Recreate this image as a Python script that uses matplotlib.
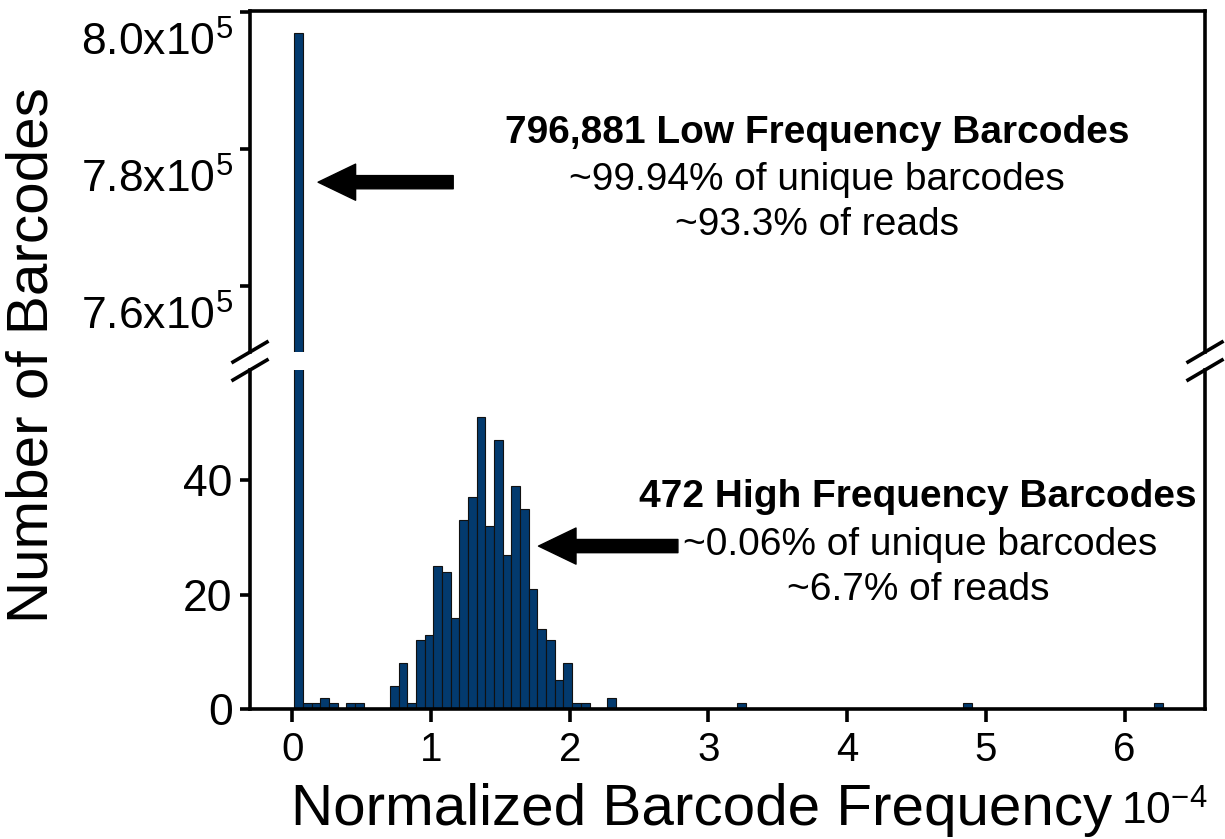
import numpy as np
import matplotlib.pyplot as plt
from matplotlib.lines import Line2D
from matplotlib.transforms import ScaledTranslation

plt.rcParams['font.family'] = ['Liberation Sans', 'DejaVu Sans']
plt.rcParams['mathtext.fontset'] = 'custom'
plt.rcParams['mathtext.rm'] = 'Liberation Sans'
plt.rcParams['mathtext.it'] = 'Liberation Sans:italic'
plt.rcParams['mathtext.bf'] = 'Liberation Sans:bold'

# histogram bins (x in units of 1e-4), only non-empty bins listed
bin_start = 0.0144
bin_width = 0.0626
bin_index = [0, 1, 2, 3, 4, 6, 7,
             11, 12, 13, 14, 15, 16, 17, 18, 19, 20, 21, 22, 23, 24, 25,
             26, 27, 28, 29, 30, 31, 32, 33, 36, 51, 77, 99]
bin_count = [796874, 1, 1, 2, 1, 1, 1,
             4, 8, 1, 12, 13, 25, 24, 16, 33, 37, 51, 32, 47, 27, 39,
             35, 21, 14, 12, 5, 8, 1, 1, 2, 1, 1, 1]

top_ticks = [7.6e5, 7.8e5, 8.0e5]
top_labels = [r'7.6x10$^{5}$', r'7.8x10$^{5}$', r'8.0x10$^{5}$']
bot_ticks = [0, 20, 40]
x_ticks = [0, 1, 2, 3, 4, 5, 6]

bar_color = '#033a6e'
W, H = 1225, 839

lefts = bin_start + np.array(bin_index) * bin_width
counts = np.array(bin_count)

fig = plt.figure(figsize=(W / 100, H / 100), dpi=100)
ax_top = fig.add_axes([250 / W, 1 - 352 / H, 955 / W, 341 / H])
ax_bot = fig.add_axes([250 / W, 1 - 709 / H, 955 / W, 339 / H])

for ax in (ax_top, ax_bot):
    ax.bar(lefts, counts, width=bin_width, align='edge', color=bar_color,
           edgecolor='#111111', linewidth=0.8)
    ax.set_xlim(-0.305, 6.58)
    for s in ax.spines.values():
        s.set_linewidth(2.6)
    ax.tick_params(direction='out', width=2.6, length=7.5)

ax_top.set_ylim(750300, 800100)
ax_top.set_yticks(top_ticks)
ax_top.set_yticklabels(top_labels)
ax_top.tick_params(axis='y', labelsize=32, pad=5)
ax_top.tick_params(axis='x', bottom=False, labelbottom=False)
ax_top.spines['bottom'].set_visible(False)
# labels sit below their ticks, as in the original
shift = ScaledTranslation(0, -7 / 72, fig.dpi_scale_trans)
for lbl in ax_top.get_yticklabels():
    lbl.set_verticalalignment('top')
    lbl.set_transform(lbl.get_transform() + shift)

ax_bot.set_ylim(0, 59.3)
ax_bot.set_yticks(bot_ticks)
ax_bot.set_xticks(x_ticks)
ax_bot.tick_params(axis='y', labelsize=32, pad=5)
ax_bot.tick_params(axis='x', labelsize=29, pad=7, length=9)
ax_bot.spines['top'].set_visible(False)

# break marks on both sides
for xc in (250, 1205):
    for yc in (352, 370):
        fig.add_artist(Line2D([(xc - 17) / W, (xc + 17) / W],
                              [1 - (yc + 10) / H, 1 - (yc - 10) / H],
                              color='black', linewidth=2.6))

# arrows
arrow = dict(arrowstyle='simple,head_length=2.7,head_width=2.6,tail_width=0.95',
             color='black', mutation_scale=10, shrinkA=0, shrinkB=0)
ax_top.annotate('', xy=(0.186, 775100), xytext=(1.16, 775100), arrowprops=arrow)
ax_bot.annotate('', xy=(1.775, 28.5), xytext=(2.78, 28.5), arrowprops=arrow)

# annotation text
fig.text(817 / W, 1 - 133 / H, '796,881 Low Frequency Barcodes', fontsize=28,
         fontweight='bold', ha='center', va='center')
fig.text(817 / W, 1 - 180 / H, '~99.94% of unique barcodes', fontsize=28,
         ha='center', va='center')
fig.text(817 / W, 1 - 225 / H, '~93.3% of reads', fontsize=28,
         ha='center', va='center')
fig.text(918 / W, 1 - 497 / H, '472 High Frequency Barcodes', fontsize=28,
         fontweight='bold', ha='center', va='center')
fig.text(920 / W, 1 - 545 / H, '~0.06% of unique barcodes', fontsize=28,
         ha='center', va='center')
fig.text(918 / W, 1 - 590 / H, '~6.7% of reads', fontsize=28,
         ha='center', va='center')

# axis labels
fig.text(33 / W, 1 - 355 / H, 'Number of Barcodes', fontsize=42, rotation=90,
         ha='center', va='center')
fig.text(702 / W, 1 - 825 / H, 'Normalized Barcode Frequency', fontsize=42,
         ha='center', va='baseline')
fig.text(1121 / W, 1 - 825 / H, r'10$^{-4}$', fontsize=32, ha='left', va='baseline')

fig.savefig('out.png', dpi=100)
